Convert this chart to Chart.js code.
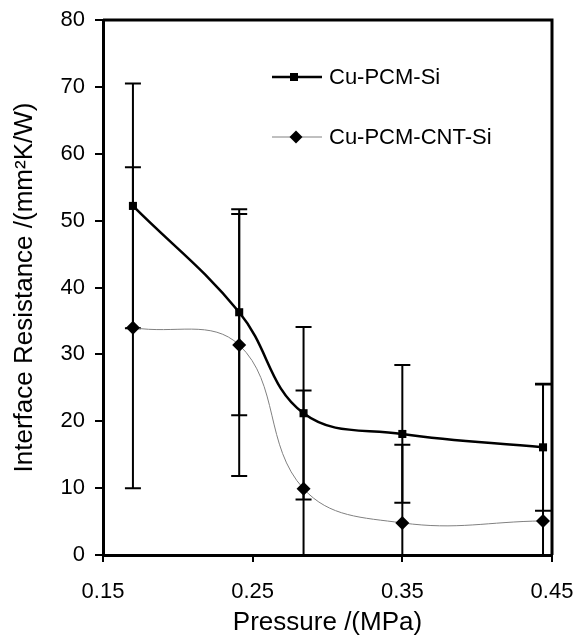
<!DOCTYPE html>
<html>
<head>
<meta charset="utf-8">
<script src="https://cdn.jsdelivr.net/npm/chart.js@4/dist/chart.umd.min.js"></script>
<style>
    html, body { margin: 0; padding: 0; background: #fff; }
    #wrap { width: 585px; height: 636px; }
</style>
</head>
<body>
<div id="wrap"><canvas id="resistanceChart"></canvas></div>
<script>
// values
let pressure = [0.170, 0.241, 0.284, 0.350, 0.444];
let cuPcmSi = [52.2, 36.3, 21.2, 18.1, 16.1];
let cuPcmSiErr = [18.3, 15.4, 12.9, 10.3, 9.5];
let cuPcmCntSi = [34.0, 31.4, 9.9, 4.8, 5.1];
let cuPcmCntSiErr = [24.0, 19.6, 14.7, 11.7, 20.4];
let seriesLabels = ["Cu-PCM-Si", "Cu-PCM-CNT-Si"];

const fontFamily = "'Liberation Sans', Arial, sans-serif";

function toPoints(xs, ys){
    return xs.map((x, i) => ({x: x, y: ys[i]}));
}

// error bars, drawn under the markers
const errorBars = {
    id: 'errorBars',
    beforeDatasetsDraw(chart){
        const ctx = chart.ctx;
        const area = chart.chartArea;
        const xs = chart.scales.x;
        const ys = chart.scales.y;
        ctx.save();
        ctx.beginPath();
        ctx.rect(area.left, area.top - 2, area.right - area.left, area.bottom - area.top + 4);
        ctx.clip();
        ctx.strokeStyle = '#000';
        ctx.lineWidth = 2;
        chart.data.datasets.forEach(ds => {
            ds.data.forEach((p, i) => {
                let e = ds.errors[i];
                let px = xs.getPixelForValue(p.x);
                let top = ys.getPixelForValue(p.y + e);
                let bottom = ys.getPixelForValue(p.y - e);
                ctx.beginPath();
                ctx.moveTo(px, top);
                ctx.lineTo(px, bottom);
                ctx.moveTo(px - 8, top);
                ctx.lineTo(px + 8, top);
                ctx.moveTo(px - 8, bottom);
                ctx.lineTo(px + 8, bottom);
                ctx.stroke();
            });
        });
        ctx.restore();
    }
};

// frame on top and right, plus the legend inside the plot
const frameAndLegend = {
    id: 'frameAndLegend',
    afterDraw(chart){
        const ctx = chart.ctx;
        const a = chart.chartArea;
        ctx.save();
        ctx.strokeStyle = '#000';
        ctx.lineWidth = 3;
        ctx.beginPath();
        ctx.moveTo(a.left, a.top);
        ctx.lineTo(a.right, a.top);
        ctx.lineTo(a.right, a.bottom);
        ctx.stroke();

        let rows = [77, 137];
        chart.data.datasets.forEach((ds, i) => {
            let y = rows[i];
            ctx.strokeStyle = ds.borderColor;
            ctx.lineWidth = ds.borderWidth;
            ctx.beginPath();
            ctx.moveTo(272, y);
            ctx.lineTo(322, y);
            ctx.stroke();
            ctx.fillStyle = '#000';
            ctx.beginPath();
            if (ds.pointStyle === 'rect'){
                ctx.rect(290, y - 4, 8, 8);
            } else {
                ctx.moveTo(296 - 6.5, y);
                ctx.lineTo(296, y - 6.5);
                ctx.lineTo(296 + 6.5, y);
                ctx.lineTo(296, y + 6.5);
                ctx.closePath();
            }
            ctx.fill();
            ctx.fillStyle = '#000';
            ctx.font = '22px ' + fontFamily;
            ctx.textBaseline = 'middle';
            ctx.textAlign = 'left';
            ctx.fillText(ds.label, 329, y + 1);
        });
        ctx.restore();
    }
};

let ctx = document.getElementById('resistanceChart').getContext('2d');
window.resistanceChart = new Chart(ctx, {
    type: 'line',
    data: {
        datasets: [
            {
                label: seriesLabels[0],
                data: toPoints(pressure, cuPcmSi),
                errors: cuPcmSiErr,
                borderColor: '#000',
                borderWidth: 2.5,
                backgroundColor: '#000',
                pointStyle: 'rect',
                pointRadius: 5.7,
                pointBorderWidth: 0,
                tension: 0.4,
                fill: false,
            },
            {
                label: seriesLabels[1],
                data: toPoints(pressure, cuPcmCntSi),
                errors: cuPcmCntSiErr,
                borderColor: '#808080',
                borderWidth: 1,
                backgroundColor: '#000',
                pointStyle: 'rectRot',
                pointRadius: 7,
                pointBorderWidth: 0,
                tension: 0.4,
                fill: false,
            },
        ],
    },
    options: {
        responsive: true,
        maintainAspectRatio: false,
        animation: false,
        layout: {
            padding: {top: 20, right: 33, left: 0, bottom: 0}
        },
        plugins: {
            legend: {display: false},
            tooltip: {enabled: false},
        },
        scales: {
            x: {
                type: 'linear',
                min: 0.15,
                max: 0.45,
                afterFit(scale){
                    scale.height = 81;
                    scale.paddingLeft = 0;
                    scale.paddingRight = 0;
                },
                ticks: {
                    stepSize: 0.1,
                    color: '#000',
                    padding: 17,
                    font: {family: fontFamily, size: 22},
                    callback: v => v.toFixed(2),
                },
                grid: {
                    drawOnChartArea: false,
                    tickLength: 7,
                    color: '#000',
                    lineWidth: 2,
                },
                border: {color: '#000', width: 3},
                title: {
                    display: true,
                    text: 'Pressure /(MPa)',
                    color: '#000',
                    padding: {top: 0, bottom: 0},
                    font: {family: fontFamily, size: 26, lineHeight: 1},
                },
            },
            y: {
                min: 0,
                max: 80,
                afterFit(scale){
                    scale.width = 103;
                    scale.paddingTop = 0;
                    scale.paddingBottom = 0;
                },
                ticks: {
                    stepSize: 10,
                    color: '#000',
                    padding: 10,
                    font: {family: fontFamily, size: 22},
                },
                grid: {
                    drawOnChartArea: false,
                    tickLength: 8,
                    color: '#000',
                    lineWidth: 2,
                },
                border: {color: '#000', width: 3},
                title: {
                    display: true,
                    text: 'Interface Resistance /(mm²K/W)',
                    color: '#000',
                    padding: {top: 12, bottom: 0},
                    font: {family: fontFamily, size: 26, lineHeight: 1},
                },
            },
        },
    },
    plugins: [errorBars, frameAndLegend],
});
</script>
</body>
</html>
